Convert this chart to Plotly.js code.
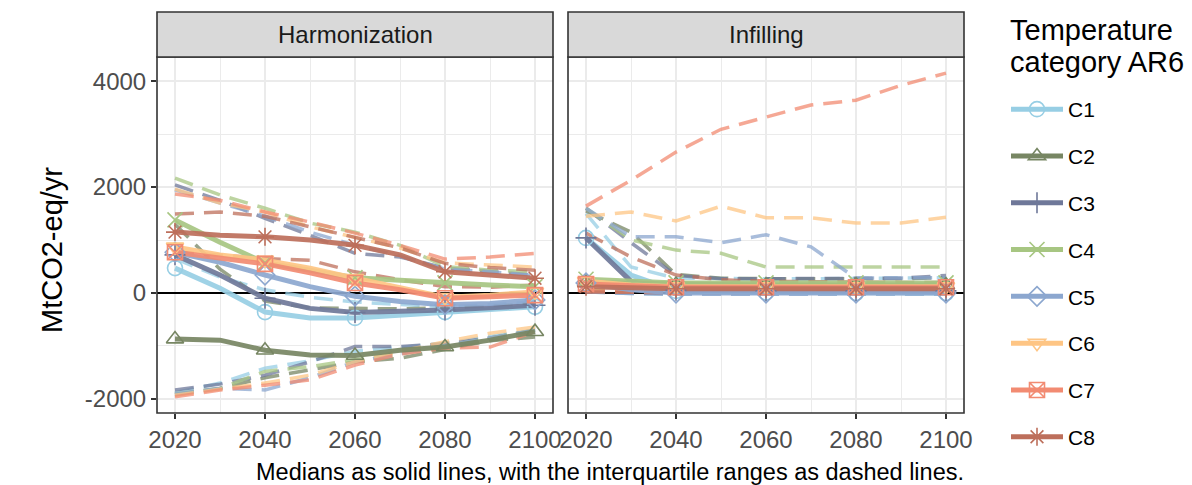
<!DOCTYPE html>
<html><head><meta charset="utf-8">
<script src="https://cdn.plot.ly/plotly-3.0.1.min.js"></script>
<style>html,body{margin:0;padding:0;background:#fff}#chart{width:1192px;height:485px}</style>
</head><body><div id="chart"></div>
<script>
const years = [2020, 2030, 2040, 2050, 2060, 2070, 2080, 2090, 2100];
const categories = ['C1', 'C2', 'C3', 'C4', 'C5', 'C6', 'C7', 'C8'];
const panels = ['Harmonization', 'Infilling'];

// Harmonization panel (MtCO2-eq/yr), one row per category C1..C8
const harmMedian = [
  [470, 90, -360, -470, -470, -420, -360, -310, -260],
  [-870, -890, -1080, -1170, -1180, -1080, -1020, -890, -730],
  [720, 340, -100, -290, -370, -350, -320, -280, -230],
  [1380, 960, 570, 430, 290, 240, 190, 150, 120],
  [770, 580, 340, 120, -60, -160, -220, -200, -130],
  [870, 720, 620, 470, 280, 100, -80, -40, 20],
  [770, 660, 550, 380, 190, 60, -100, -70, -40],
  [1150, 1090, 1060, 1000, 900, 720, 400, 340, 280]
];
const harmQ25 = [
  [-1880, -1700, -1420, -1280, -1100, -1020, -950, -820, -700],
  [-1920, -1800, -1600, -1450, -1300, -1230, -1060, -900, -830],
  [-1830, -1720, -1550, -1300, -1010, -1010, -960, -850, -700],
  [-1900, -1800, -1480, -1390, -1260, -1150, -1000, -850, -700],
  [-1900, -1800, -1830, -1600, -1300, -1150, -1000, -850, -700],
  [-1930, -1820, -1700, -1550, -1300, -1100, -920, -760, -640],
  [-1960, -1830, -1740, -1640, -1360, -1150, -1040, -1020, -730],
  [780, 720, 650, 620, 400, 250, 120, 110, 150]
];
const harmQ75 = [
  [650, 300, 60, -80, -170, -220, -260, -220, -170],
  [1300, 450, -150, -280, -290, -300, -280, -250, -200],
  [2040, 1750, 1410, 1090, 750, 680, 470, 400, 340],
  [2170, 1850, 1600, 1320, 1150, 900, 500, 430, 400],
  [1950, 1700, 1450, 1150, 900, 700, 450, 400, 330],
  [1960, 1700, 1530, 1250, 1050, 850, 570, 530, 490],
  [1870, 1750, 1530, 1340, 1130, 900, 640, 680, 750],
  [1490, 1530, 1450, 1250, 1050, 850, 560, 480, 430]
];

// Infilling panel
const infMedian = [
  [1040, 340, 40, 20, 10, 10, 0, 0, 0],
  [200, 180, 160, 160, 150, 150, 150, 150, 150],
  [1040, 220, 50, 40, 40, 40, 40, 40, 40],
  [260, 230, 190, 190, 190, 190, 190, 190, 190],
  [190, 60, 0, 0, 0, 0, 0, 0, 0],
  [220, 150, 120, 120, 120, 120, 120, 120, 120],
  [170, 130, 110, 110, 110, 110, 110, 110, 110],
  [120, 90, 80, 80, 80, 80, 80, 80, 80]
];
const infQ25 = [
  [20, -10, -20, -20, -20, -20, -20, -20, -20],
  [40, 20, 10, 10, 10, 10, 10, 10, 10],
  [30, 0, -10, -10, -10, -10, -10, -10, -10],
  [60, 40, 30, 30, 30, 30, 30, 30, 30],
  [20, -10, -20, -20, -20, -20, -20, -20, -20],
  [50, 30, 20, 20, 20, 20, 20, 20, 20],
  [30, 20, 10, 10, 10, 10, 10, 10, 10],
  [20, 10, 0, 0, 0, 0, 0, 0, 0]
];
const infQ75 = [
  [1500, 490, 280, 270, 270, 270, 280, 280, 290],
  [1550, 1150, 350, 280, 270, 270, 270, 270, 290],
  [1600, 950, 330, 270, 270, 270, 280, 280, 330],
  [1600, 1000, 810, 750, 490, 490, 490, 490, 490],
  [1600, 1060, 1060, 950, 1100, 870, 280, 280, 290],
  [1450, 1530, 1360, 1640, 1420, 1420, 1320, 1320, 1430],
  [1640, 2130, 2660, 3090, 3320, 3550, 3640, 3920, 4150],
  [1130, 680, 340, 250, 220, 210, 200, 200, 200]
];

const yTicks = [-2000, 0, 2000, 4000];
const xTicks = [2020, 2040, 2060, 2080, 2100];
const legendTitle = ['Temperature', 'category AR6'];
const yTitle = 'MtCO2-eq/yr';
const caption = 'Medians as solid lines, with the interquartile ranges as dashed lines.';

// styles
const colors = ['#97CEE4', '#778663', '#6F7899', '#A7C682', '#8CA7CF', '#FEC584', '#F28B72', '#BD6F5B'];
const symbols = ['circle-open', 'triangle-up-open', 'cross-thin-open', 'x-thin-open', 'diamond-open', 'triangle-down-open', 'square-x-open', 'asterisk-open'];
const FONT = 'Liberation Sans, Arial, sans-serif';
const PL = 157, PT = 57, PW = 807, PH = 356; // plot area in px
const px2x = px => (px - PL) / PW;
const py2y = py => 1 - (py - PT) / PH;

const panelData = [
  {xa: 'x', ya: 'y', med: harmMedian, q25: harmQ25, q75: harmQ75},
  {xa: 'x2', ya: 'y2', med: infMedian, q25: infQ25, q75: infQ75}
];

const traces = [];
panelData.forEach(p => {
  categories.forEach((c, i) => {
    [p.q25, p.q75].forEach(arr => {
      traces.push({
        x: years, y: arr[i], xaxis: p.xa, yaxis: p.ya, mode: 'lines',
        line: {color: colors[i], width: 3.5, dash: '19px,10px'},
        opacity: 0.75, showlegend: false, hoverinfo: 'skip'
      });
    });
  });
});
panelData.forEach(p => {
  categories.forEach((c, i) => {
    traces.push({
      x: years, y: p.med[i], xaxis: p.xa, yaxis: p.ya, mode: 'lines',
      line: {color: colors[i], width: 5},
      opacity: 0.92, showlegend: false, hoverinfo: 'skip'
    });
  });
});
panelData.forEach(p => {
  categories.forEach((c, i) => {
    const idx = years.map((y, k) => k).filter(k => xTicks.includes(years[k]));
    traces.push({
      x: idx.map(k => years[k]), y: idx.map(k => p.med[i][k]), xaxis: p.xa, yaxis: p.ya, mode: 'markers',
      marker: {symbol: symbols[i], size: 15, color: colors[i], line: {color: colors[i], width: 1.6}},
      showlegend: false, hoverinfo: 'skip'
    });
  });
});
categories.forEach((c, i) => {
  traces.push({
    x: [null], y: [null], xaxis: 'x', yaxis: 'y', mode: 'lines+markers', name: c,
    legendgroup: c,
    line: {color: colors[i], width: 5},
    marker: {symbol: symbols[i], size: 15, color: colors[i], line: {color: colors[i], width: 1.6}},
    showlegend: true
  });
});

const xr = [2016, 2104];
const yr = [-2265, 4455];
const gridCol = '#EBEBEB';
const tickFont = {family: FONT, size: 24, color: '#4D4D4D'};
const axisBase = {
  range: xr, tickvals: xTicks, ticktext: xTicks.map(String),
  showgrid: true, gridcolor: gridCol, gridwidth: 1.6,
  minor: {tickvals: [2030, 2050, 2070, 2090], showgrid: true, gridcolor: gridCol, gridwidth: 1, ticks: ''},
  ticks: 'outside', ticklen: 5, tickwidth: 1.3, tickcolor: '#333',
  tickfont: tickFont, showline: false, zeroline: false, fixedrange: true
};
const yBase = {
  range: yr, tickvals: yTicks, ticktext: yTicks.map(String),
  showgrid: true, gridcolor: gridCol, gridwidth: 1.6,
  minor: {tickvals: [-1000, 1000, 3000], showgrid: true, gridcolor: gridCol, gridwidth: 1, ticks: ''},
  ticks: 'outside', ticklen: 5, tickwidth: 1.3, tickcolor: '#333',
  tickfont: tickFont,
  zeroline: true, zerolinecolor: '#000', zerolinewidth: 2,
  showline: false, fixedrange: true
};

const stripH = 45 / PH;
const shapes = [];
const annotations = [];
[['x', 'y'], ['x2', 'y2']].forEach((ax, k) => {
  shapes.push({type: 'rect', xref: ax[0] + ' domain', yref: ax[1] + ' domain', x0: 0, x1: 1, y0: 0, y1: 1,
    line: {color: '#333', width: 1.6}, fillcolor: 'rgba(0,0,0,0)', layer: 'above'});
  shapes.push({type: 'rect', xref: ax[0] + ' domain', yref: 'paper', x0: 0, x1: 1, y0: 1, y1: 1 + stripH,
    line: {color: '#333', width: 1.6}, fillcolor: '#D9D9D9', layer: 'above'});
  annotations.push({xref: ax[0] + ' domain', yref: 'paper', x: 0.5, y: 1 + stripH / 2, text: panels[k],
    showarrow: false, xanchor: 'center', yanchor: 'middle', font: {family: FONT, size: 24, color: '#1A1A1A'}});
});
annotations.push({xref: 'paper', yref: 'paper', x: px2x(610), y: py2y(472),
  text: caption, showarrow: false,
  xanchor: 'center', yanchor: 'middle', font: {family: FONT, size: 23.5, color: '#000'}});
annotations.push({xref: 'paper', yref: 'paper', x: px2x(52), y: py2y(250),
  text: yTitle, showarrow: false, textangle: -90,
  xanchor: 'center', yanchor: 'middle', font: {family: FONT, size: 29, color: '#000'}});
annotations.push({xref: 'paper', yref: 'paper', x: px2x(1008), y: py2y(30),
  text: legendTitle[0], showarrow: false,
  xanchor: 'left', yanchor: 'middle', font: {family: FONT, size: 29, color: '#000'}});
annotations.push({xref: 'paper', yref: 'paper', x: px2x(1008), y: py2y(62),
  text: legendTitle[1], showarrow: false,
  xanchor: 'left', yanchor: 'middle', font: {family: FONT, size: 29, color: '#000'}});

const layout = {
  width: 1192, height: 485,
  margin: {l: PL, r: 1192 - PL - PW, t: PT, b: 485 - PT - PH, pad: 0},
  paper_bgcolor: '#fff', plot_bgcolor: '#fff',
  font: {family: FONT, color: '#000'},
  xaxis: Object.assign({}, axisBase, {domain: [0, 396 / PW], anchor: 'y'}),
  xaxis2: Object.assign({}, axisBase, {domain: [411 / PW, 1], anchor: 'y2'}),
  yaxis: Object.assign({}, yBase, {anchor: 'x'}),
  yaxis2: Object.assign({}, yBase, {anchor: 'x2', showticklabels: false, ticks: ''}),
  showlegend: true,
  legend: {
    x: px2x(1006), xanchor: 'left', y: py2y(89), yanchor: 'top',
    font: {family: FONT, size: 21, color: '#000'},
    traceorder: 'grouped', tracegroupgap: 16.5, itemwidth: 52,
    bgcolor: 'rgba(0,0,0,0)', maxheight: 470
  },
  shapes: shapes, annotations: annotations
};

Plotly.newPlot('chart', traces, layout, {displayModeBar: false, staticPlot: true});
</script>
</body></html>
